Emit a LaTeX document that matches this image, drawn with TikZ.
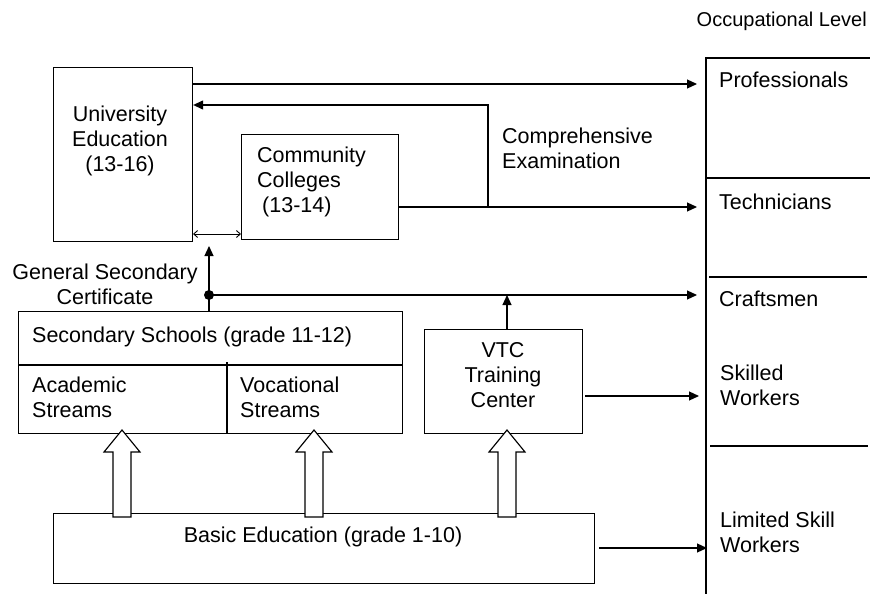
\documentclass[tikz,border=0pt]{standalone}
\usepackage{fontspec}
\setmainfont{Liberation Sans}
\usetikzlibrary{arrows.meta,calc}
\begin{document}
\begin{tikzpicture}[x=1pt,y=-1pt,
  every node/.style={inner sep=0pt, font=\fontsize{21.5}{25}\selectfont},
  box/.style={draw, line width=1.15pt, anchor=north west, inner sep=0pt},
  line/.style={line width=1.15pt},
  arr/.style={line width=1.15pt, -{Triangle[length=10pt,width=9pt]}},
  dblarr/.style={line width=0.9pt, {Straight Barb[length=4pt,width=7pt]}-{Straight Barb[length=4pt,width=7pt]}},
  hollow/.style={line width=1.15pt, fill=white},
  lbl/.style={align=left, anchor=north west},
  clbl/.style={align=center, anchor=north}]
\useasboundingbox[fill=white] (0,0) rectangle (870,594);

% boxes
\node[box, minimum width=139pt, minimum height=174pt] (uni) at (53,67) {};
\node[box, minimum width=157pt, minimum height=105pt] (cc) at (241,134) {};
\node[box, minimum width=384pt, minimum height=122pt] (sec) at (18,311) {};
\node[box, minimum width=158pt, minimum height=104pt] (vtc) at (424,329) {};
\node[box, minimum width=541pt, minimum height=70pt] (basic) at (53,513) {};

% secondary school dividers
\draw[line] (sec.west |- 0,365) -- (sec.east |- 0,365);
\draw[line] (227,362) -- (sec.south -| 227,0);

% occupational column
\draw[line] (870,58) -- (706,58) -- (706,594);
\draw[line] (706,178) -- (870,178);
\draw[line] (709,277) -- (867,277);
\draw[line] (710,446) -- (868,446);

\coordinate (lvProf) at (706,84);
\coordinate (lvTech) at (706,207);
\coordinate (lvCraft) at (706,295);
\coordinate (lvSkill) at (706,396);
\coordinate (lvLim) at (707,548);

% connectors
\draw[arr, shorten >=9pt] (uni.east |- lvProf) -- (lvProf);
\coordinate (exam) at (488,207);
\coordinate (examTop) at (488,105);
\draw[arr, shorten >=9pt] (cc.east |- lvTech) -- (lvTech);
\draw[arr] (exam) -- (examTop) -- (uni.east |- examTop);
\coordinate (gsc) at (209,295);
\coordinate (gscTip) at (209,246);
\draw[arr] (sec.north -| gsc) -- (gscTip);
\fill (gsc) circle (5pt);
\draw[arr, shorten >=9pt] (gsc) -- (lvCraft);
\coordinate (vtcUp) at (507,295);
\draw[arr] (vtc.north -| vtcUp) -- (vtcUp);
\draw[arr, shorten <=2pt, shorten >=7pt] (vtc.east |- lvSkill) -- (lvSkill);
\draw[arr, shorten <=4pt] (basic.east |- lvLim) -- (lvLim);
\coordinate (dbl) at (193,234);
\draw[dblarr] (dbl) -- (cc.west |- dbl);

% hollow arrows
\foreach \x in {122,314,507}
  \draw[hollow] (\x-9,517) -- (\x-9,452) -- (\x-18,452) -- (\x,430) -- (\x+18,452) -- (\x+9,452) -- (\x+9,517) -- cycle;

% texts
\node[font=\fontsize{20}{24}\selectfont, anchor=base east] (occtitle) at (867,27) {Occupational Level};
\node[anchor=base west] (prof) at (719,87) {Professionals};
\node[anchor=base west] (tech) at (719,209) {Technicians};
\node[anchor=base west] (craft) at (719,306) {Craftsmen};
\node[lbl] (skill) at (720,365) {Skilled\\Workers};
\node[lbl] (lim) at (720,512) {Limited Skill\\Workers};

\node[clbl] (unitxt) at (120,106) {University\\Education\\(13-16)};
\node[lbl] (cctxt) at (257,147) {Community\\Colleges\\\hspace*{5pt}(13-14)};
\node[lbl] (examtxt) at (502,128) {Comprehensive\\Examination};
\node[clbl] (gsctxt) at (105,264) {General Secondary\\Certificate};
\node[anchor=base west] (sectxt) at (32,342) {Secondary Schools (grade 11-12)};
\node[lbl] (acad) at (32,377) {Academic\\Streams};
\node[lbl] (voc) at (240,377) {Vocational\\Streams};
\node[clbl] (vtctxt) at (503,342) {VTC\\Training\\Center};
\node[anchor=base] (basictxt) at (323,542) {Basic Education (grade 1-10)};
\end{tikzpicture}
\end{document}
